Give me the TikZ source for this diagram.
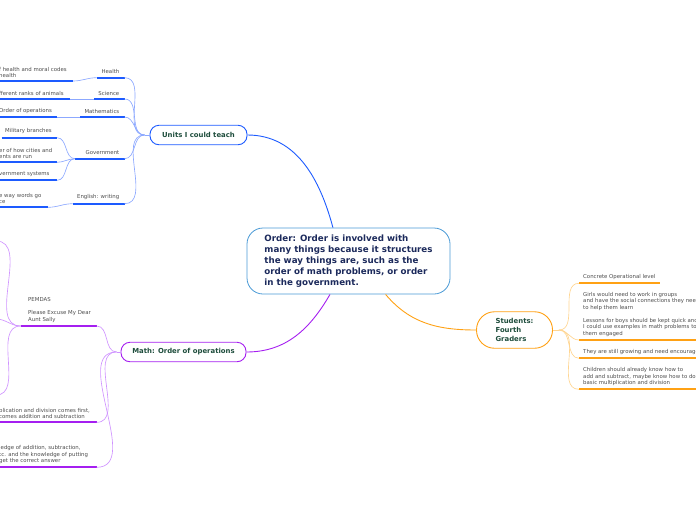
\documentclass[tikz,border=0pt]{standalone}
\usepackage{fontspec}
\setmainfont{DejaVu Sans}
\usetikzlibrary{calc,positioning}
\definecolor{unitblue}{HTML}{1D5BFF}
\definecolor{unitsoft}{HTML}{8CA8FF}
\definecolor{mathpurple}{HTML}{A51FF0}
\definecolor{mathsoft}{HTML}{CF93FF}
\definecolor{kidorange}{HTML}{FFA114}
\definecolor{kidsoft}{HTML}{FFD591}
\definecolor{centerblue}{HTML}{4A9AD6}
\definecolor{navy}{HTML}{1C2A5C}
\definecolor{topicgreen}{HTML}{1E4D3C}
\definecolor{leafgray}{HTML}{4D4D4D}
\tikzset{
  leaf/.style={font=\fontsize{5.4}{6.5}\selectfont,text=leafgray,align=left,inner sep=0pt},
  topic/.style={draw,line width=.9pt,fill=white,rounded corners=9pt,minimum height=19.5pt,
    font=\fontsize{6.9}{9}\selectfont\bfseries,text=topicgreen},
  bar/.style={line width=1.7pt},
  twig/.style={line width=.65pt},
  trunk/.style={line width=.9pt}}
\begin{document}
\begin{tikzpicture}[x=1pt,y=-1pt]
\useasboundingbox (0,0) rectangle (696,520);
\clip (0,0) rectangle (696,520);
% central idea and main topics
\node[draw=centerblue,line width=.8pt,fill=white,rounded corners=16pt,minimum width=203pt,minimum height=66pt,
  align=left,font=\fontsize{8.7}{11}\selectfont\bfseries,text=navy] (main) at (348.5,261)
  {Order: Order is involved with\\many things because it structures\\the way things are, such as the\\order of math problems, or order\\in the government.};
\node[topic,draw=unitblue,minimum width=97pt] (units) at (198.5,135) {Units I could teach};
\node[topic,draw=mathpurple,minimum width=125pt] (math) at (183.5,352) {Math: Order of operations};
\node[topic,draw=kidorange,minimum width=76pt,minimum height=36.5pt,rounded corners=18pt,align=left,
  font=\fontsize{6.9}{9}\selectfont\bfseries] (kids) at (514.5,330) {Students:\\Fourth\\Graders};
\draw[trunk,unitblue] (main.115) to[out=105,in=0] (units.east);
\draw[trunk,mathpurple] (main.241) to[out=240,in=0] (math.east);
\draw[trunk,kidorange] (main.318) to[out=-50,in=180] (kids.west);
% units I could teach
\coordinate (uhub) at ($(units.west)+(-5,0)$);
\draw[twig,unitsoft] (units.west)--(uhub);
\foreach \n/\a/\y/\t in {health/96.7/77.7/Health,science/94/99/Science,maths/80/117/Mathematics,
  gov/75/158.7/Government,english/72.7/203.7/English: writing}{
  \draw[bar,unitblue] (\a,\y) coordinate (\n-l) -- (124.5,\y) coordinate (\n-r);
  \node[leaf,anchor=south east] (\n) at (119.5,\y-3.5) {\t};
  \draw[twig,unitsoft] (uhub) to[out=180,in=0] (\n-r);}
\draw[bar,unitblue] (-5,81) -- (73,81) coordinate (hk-r);
\node[leaf,anchor=south west] (hk) at (-1,77.8) {f health and moral codes\\health};
\draw[twig,unitsoft] (health-l) to[out=180,in=0] (hk-r);
\draw[bar,unitblue] (-5,99) -- (70,99) coordinate (sk-r);
\node[leaf,anchor=south west] (sk) at (-1,95.7) {fferent ranks of animals};
\draw[twig,unitsoft] (science-l) -- (sk-r);
\draw[bar,unitblue] (-5,117) -- (57,117) coordinate (mk-r);
\node[leaf,anchor=south west] (mk) at (-1,113.7) {Order of operations};
\draw[twig,unitsoft] (maths-l) -- (mk-r);
\draw[bar,unitblue] (1.7,137.7) -- (57,137.7) coordinate (gk1-r);
\node[leaf,anchor=south east] (gk1) at (52,134.3) {Military branches};
\draw[bar,unitblue] (-5,162.3) -- (57,162.3) coordinate (gk2-r);
\node[leaf,anchor=south west] (gk2) at (-1,159) {er of how cities and\\ents are run};
\draw[bar,unitblue] (-5,180.3) -- (57,180.3) coordinate (gk3-r);
\node[leaf,anchor=south west] (gk3) at (-1,177) {vernment systems};
\foreach \k in {gk1,gk2,gk3}{\draw[twig,unitsoft] (gov-l) to[out=180,in=0] (\k-r);}
\draw[bar,unitblue] (-5,207.3) -- (48,207.3) coordinate (ek-r);
\node[leaf,anchor=south west] (ek) at (-1,204) {e way words go\\ce};
\draw[twig,unitsoft] (english-l) to[out=180,in=0] (ek-r);
% math: order of operations
\coordinate (mhub) at ($(math.west)+(-4,0)$);
\draw[twig,mathsoft] (math.west)--(mhub);
\draw[bar,mathpurple] (20.7,326) coordinate (pem-l) -- (96.7,326) coordinate (pem-r);
\node[leaf,anchor=south west] (pem) at (28,322.8) {PEMDAS\\[6.5pt]Please Excuse My Dear\\Aunt Sally};
\draw[bar,mathpurple] (-5,422.3) -- (96.7,422.3) coordinate (mult-r);
\node[leaf,anchor=south west] (mult) at (-1,419) {plication and division comes first,\\comes addition and subtraction};
\draw[bar,mathpurple] (-5,467.3) -- (96.7,467.3) coordinate (know-r);
\node[leaf,anchor=south west] (know) at (-1,464) {ledge of addition, subtraction,\\tc. and the knowledge of putting\\get the correct answer};
\foreach \k in {pem,mult,know}{\draw[twig,mathsoft] (mhub) to[out=180,in=0] (\k-r);}
\coordinate (pa) at (-4,241);
\coordinate (pb) at (-4,319);
\coordinate (pc) at (-4,395);
\foreach \k in {pa,pb,pc}{\draw[twig,mathsoft] (pem-l) to[out=180,in=0] (\k);}
% students: fourth graders
\coordinate (shub) at ($(kids.east)+(6,0)$);
\draw[twig,kidsoft] (kids.east)--(shub);
\draw[bar,kidorange] (579,283.3) coordinate (conc-l) -- (660,283.3);
\node[leaf,anchor=south west] (conc) at (583,279.9) {Concrete Operational level};
\node[leaf,anchor=south west] (girls) at (583,310.4) {Girls would need to work in groups\\and have the social connections they need\\to help them learn};
\draw[bar,kidorange] (579,340) coordinate (boys-l) -- (720,340);
\node[leaf,anchor=south west] (boys) at (583,336.6) {Lessons for boys should be kept quick and\\I could use examples in math problems to keep\\them engaged};
\draw[bar,kidorange] (579,358.3) coordinate (grow-l) -- (720,358.3);
\node[leaf,anchor=south west] (grow) at (583,354.9) {They are still growing and need encouragement};
\draw[bar,kidorange] (579,389.3) coordinate (know2-l) -- (720,389.3);
\node[leaf,anchor=south west] (know2) at (583,385.9) {Children should already know how to\\add and subtract, maybe know how to do\\basic multiplication and division};
\foreach \k in {conc,boys,grow,know2}{\draw[twig,kidsoft] (shub) to[out=0,in=180] (\k-l);}
\end{tikzpicture}
\end{document}
